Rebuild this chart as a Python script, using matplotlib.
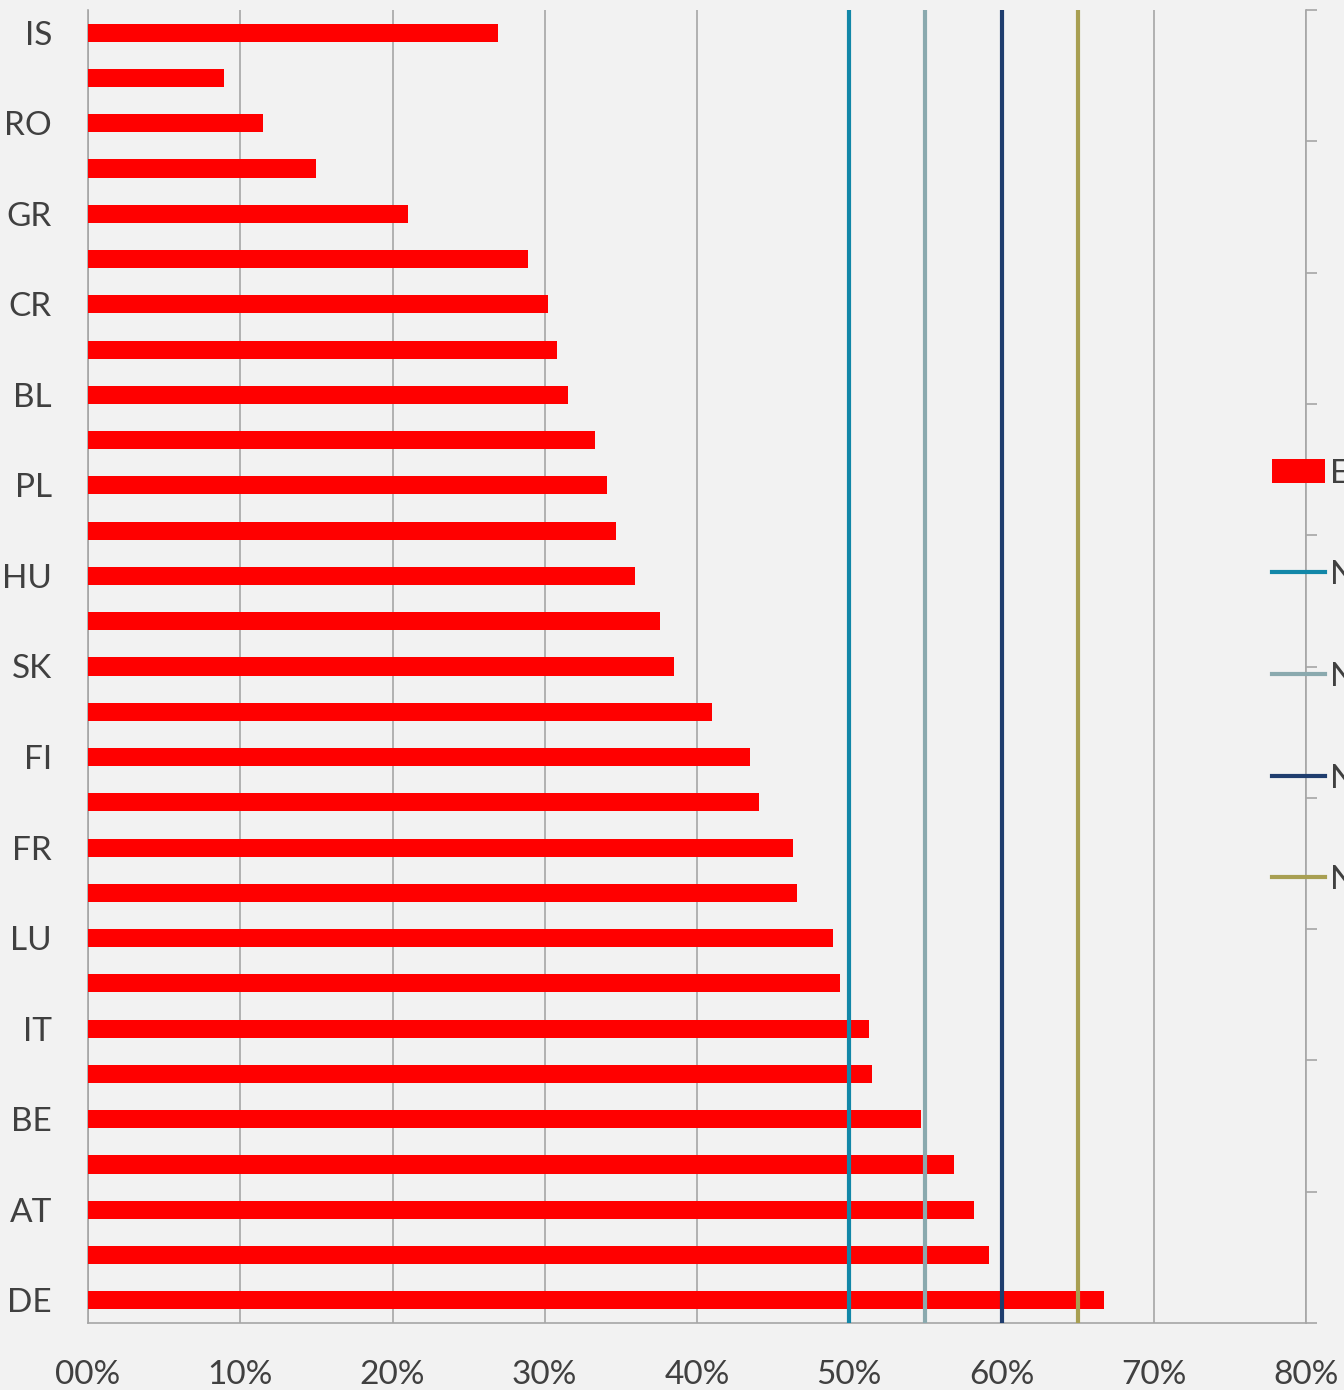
import numpy as np
import matplotlib.pyplot as plt

# bars from top to bottom; only every other category is labelled in the chart
countries = ["IS", "", "RO", "", "GR", "", "CR", "", "BL", "", "PL", "", "HU", "",
             "SK", "", "FI", "", "FR", "", "LU", "", "IT", "", "BE", "", "AT", "", "DE"]
shares = [26.9, 8.9, 11.5, 15.0, 21.0, 28.9, 30.2, 30.8, 31.5, 33.3, 34.1, 34.7, 35.9, 37.6,
          38.5, 41.0, 43.5, 44.1, 46.3, 46.6, 48.9, 49.4, 51.3, 51.5, 54.7, 56.9, 58.2, 59.2, 66.7]

# reference lines (legend text is cut off at the right edge)
ref_labels = ["N 50%", "N 55%", "N 60%", "N 65%"]
ref_values = [50, 55, 60, 65]
ref_colors = ["#1287a8", "#8aa9ae", "#1f3d6e", "#a89f52"]

xticks = [0, 10, 20, 30, 40, 50, 60, 70, 80]
xticklabels = ["00%", "10%", "20%", "30%", "40%", "50%", "60%", "70%", "80%"]

bg = "#f2f2f2"
txt = "#404040"
grid = "#a6a6a6"
plt.rcParams["font.family"] = ["Lato", "DejaVu Sans"]

fig = plt.figure(figsize=(13.44, 13.9), dpi=100, facecolor=bg)
ax = fig.add_axes([88 / 1344, 1 - 1323 / 1390, (1306 - 88) / 1344, 1313 / 1390])
ax.set_facecolor(bg)

y = np.arange(len(countries))
bars = ax.barh(y, shares, height=0.4, color="#ff0000", label="EU", zorder=3)

lines = []
for v, c, lab in zip(ref_values, ref_colors, ref_labels):
    ln = ax.axvline(v, color=c, lw=3, zorder=4, label=lab)
    lines.append(ln)

ax.set_xlim(0, 80)
ax.set_ylim(len(countries) - 0.5, -0.5)
ax.set_yticks(y)
ax.set_yticklabels(countries, fontsize=24, color=txt)
ax.set_xticks(xticks)
ax.set_xticklabels(xticklabels, fontsize=24, color=txt)
ax.tick_params(axis="y", length=0, pad=26)
ax.tick_params(axis="x", length=0, pad=27)
ax.grid(axis="x", color=grid, lw=1.2, zorder=0)
for s in ["top", "right"]:
    ax.spines[s].set_visible(False)
for s in ["left", "bottom"]:
    ax.spines[s].set_color(grid)
    ax.spines[s].set_linewidth(1.2)

# secondary axis on the right (no labels)
ax2 = ax.twinx()
ax2.set_ylim(0, 1)
ax2.set_yticks(np.linspace(0, 1, 11))
ax2.set_yticklabels([])
ax2.tick_params(axis="y", length=8, width=1.2, color=grid, direction="out")
for s in ["top", "left", "bottom"]:
    ax2.spines[s].set_visible(False)
ax2.spines["right"].set_color(grid)
ax2.spines["right"].set_linewidth(1.2)

handles = [bars] + lines
labels = ["EU"] + ref_labels
leg = fig.legend(handles, labels, loc="upper left", bbox_to_anchor=(1255 / 1344, 1 - 442 / 1390),
                 frameon=False, fontsize=24, handlelength=1.6, handleheight=0.75,
                 labelspacing=2.15, handletextpad=0.15, borderpad=0)
for t in leg.get_texts():
    t.set_color(txt)

fig.savefig("out.png", dpi=100, facecolor=bg)
